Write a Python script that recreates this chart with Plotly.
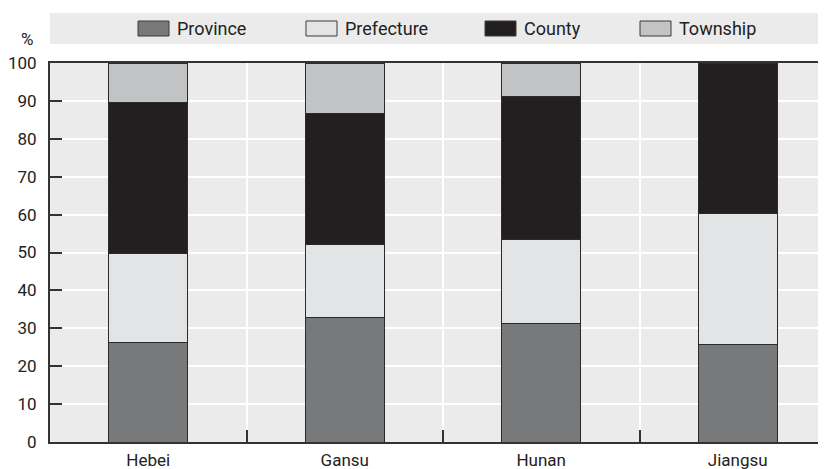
import plotly.graph_objects as go

regions = ["Hebei", "Gansu", "Hunan", "Jiangsu"]
series_names = ["Province", "Prefecture", "County", "Township"]
province = [26.3, 32.9, 31.2, 25.8]
prefecture = [23.5, 19.3, 22.3, 34.5]
county = [39.7, 34.5, 37.7, 39.7]
township = [10.5, 13.3, 8.8, 0.0]
y_ticks = [0, 10, 20, 30, 40, 50, 60, 70, 80, 90, 100]

colors = ["#78797b", "#e3e4e6", "#231f20", "#c2c3c5"]
FONT = "Roboto, Liberation Sans, sans-serif"
W, H = 826, 469
OFF = 8  # page body margin offset
L, R, T, B = 50 - OFF, 0, 63 - OFF, H - (442 - OFF)
PW, PH = W - L - R, H - T - B
UNIT = 196.5  # px per category


def px_x(px):
    return (px - OFF - L) / PW


def px_y(py):
    return (H - B - (py - OFF)) / PH


fig = go.Figure()
for name, vals, col in zip(series_names, [province, prefecture, county, township], colors):
    fig.add_trace(go.Bar(
        x=regions, y=vals, name=name, width=0.4,
        marker=dict(color=col, line=dict(color="#2a2a2a", width=1)),
        showlegend=False,
    ))

shapes = [dict(type="rect", xref="paper", yref="paper", x0=0, x1=1,
               y0=px_y(44), y1=px_y(13), fillcolor="#ebebeb", line=dict(width=0), layer="below")]
annotations = [dict(text="%", xref="paper", yref="paper", x=px_x(27), y=px_y(39),
                    showarrow=False, font=dict(family=FONT, size=17, color="#222"),
                    xanchor="center", yanchor="middle")]
legend_x = [138, 306, 485, 640]
for name, col, lx in zip(series_names, colors, legend_x):
    shapes.append(dict(type="rect", xref="paper", yref="paper",
                       x0=px_x(lx), x1=px_x(lx + 31), y0=px_y(36), y1=px_y(21),
                       fillcolor=col, line=dict(color="#3a3a3a", width=1)))
    annotations.append(dict(text=name, xref="paper", yref="paper", x=px_x(lx + 37), y=px_y(28.5),
                            showarrow=False, xanchor="left", yanchor="middle",
                            font=dict(family=FONT, size=18, color="#222")))

fig.update_layout(
    width=W, height=H,
    margin=dict(l=L, r=R, t=T, b=B, autoexpand=False),
    barmode="stack",
    plot_bgcolor="#ebebeb",
    paper_bgcolor="white",
    font=dict(family=FONT, size=18, color="#222"),
    shapes=shapes,
    annotations=annotations,
    xaxis=dict(
        type="category", range=[-0.5, -0.5 + PW / UNIT], tickson="boundaries",
        ticks="inside", ticklen=12, tickcolor="#333", tickwidth=1.5,
        showgrid=True, gridcolor="white", gridwidth=1.5,
        showline=True, linecolor="#333", linewidth=2, mirror=True,
        automargin=False, ticklabelstandoff=2,
        tickfont=dict(family=FONT, size=17, color="#222"),
    ),
    yaxis=dict(
        range=[0, 100], tickvals=y_ticks,
        ticks="inside", ticklen=12, tickcolor="#333", tickwidth=1.5,
        showgrid=True, gridcolor="white", gridwidth=1.5,
        showline=True, linecolor="#333", linewidth=2,
        zeroline=False, automargin=False, ticklabelstandoff=8,
        tickfont=dict(family=FONT, size=17, color="#222"),
    ),
)

fig.write_html("out.html")
